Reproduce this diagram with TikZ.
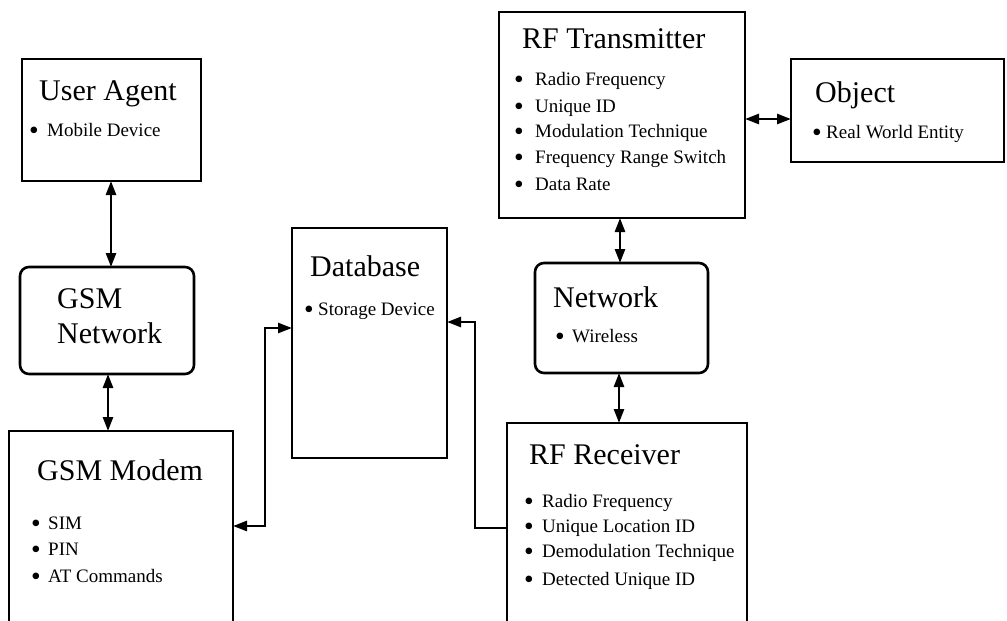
\documentclass[tikz,border=0pt]{standalone}
\usepackage{graphicx}
\usepackage{fontspec}
\setmainfont{Liberation Serif}
\usetikzlibrary{arrows.meta}
\newcommand\bul[1]{\makebox[#1][l]{\raisebox{-3.3pt}{\scalebox{1.45}{\textbullet}}}}
\begin{document}
\begin{tikzpicture}[x=1pt,y=-1pt,
  box/.style={draw, line width=2.6pt, inner sep=0pt, outer sep=0pt},
  rbox/.style={box, rounded corners=9pt},
  ttl/.style={anchor=base west, inner sep=0pt, font=\fontsize{30}{30}\selectfont},
  itm/.style={anchor=base west, inner sep=0pt, font=\fontsize{19}{19}\selectfont},
  tip/.tip={Triangle[length=14pt,width=10pt]},
  biarrow/.style={line width=2.6pt, tip-tip},
  onearrow/.style={line width=2.6pt, -tip}]
\useasboundingbox (0,0) rectangle (1007,621);
\fill[white] (0,0) rectangle (1007,621);
\clip (0,0) rectangle (1007,621);
% boxes
\node[box, minimum width=179pt, minimum height=122pt] (ua) at (111.5,120) {};
\node[rbox, minimum width=174pt, minimum height=107pt] (gsmn) at (107,320.5) {};
\node[box, minimum width=224pt, minimum height=229pt] (modem) at (121,545.5) {};
\node[box, minimum width=155pt, minimum height=230pt] (db) at (369.5,343) {};
\node[box, minimum width=246pt, minimum height=206pt] (tx) at (622,115) {};
\node[box, minimum width=213pt, minimum height=103pt] (obj) at (897.5,110.5) {};
\node[rbox, minimum width=173pt, minimum height=110pt] (net) at (621.5,318) {};
\node[box, minimum width=240pt, minimum height=237pt] (rx) at (627,541.5) {};
% titles
\node[ttl] (uat) at (39,100) {User Agent};
\node[ttl] (gsmt1) at (57,308) {GSM};
\node[ttl] (gsmt2) at (57,343) {Network};
\node[ttl] (modt) at (37,480) {GSM Modem};
\node[ttl] (dbt) at (310,276) {Database};
\node[ttl] (txt) at (522,48) {RF Transmitter};
\node[ttl] (objt) at (815,102) {Object};
\node[ttl] (nett) at (553,307) {Network};
\node[ttl] (rxt) at (529,464) {RF Receiver};
% items
\node[itm] (ua1) at (29,136) {\bul{18pt}Mobile Device};
\node[itm] (mo1) at (31,529) {\bul{17pt}SIM};
\node[itm] (mo2) at (31,555) {\bul{17pt}PIN};
\node[itm] (mo3) at (31,582) {\bul{17pt}AT Commands};
\node[itm] (db1) at (304,315) {\bul{14pt}Storage Device};
\node[itm] (tx1) at (514,85) {\bul{21pt}Radio Frequency};
\node[itm] (tx2) at (514,112) {\bul{21pt}Unique ID};
\node[itm] (tx3) at (514,137) {\bul{21pt}Modulation Technique};
\node[itm] (tx4) at (514,163) {\bul{21pt}Frequency Range Switch};
\node[itm] (tx5) at (514,190) {\bul{21pt}Data Rate};
\node[itm] (ob1) at (812,138) {\bul{14pt}Real World Entity};
\node[itm] (ne1) at (555,342) {\bul{17pt}Wireless};
\node[itm] (rx1) at (524,507) {\bul{18pt}Radio Frequency};
\node[itm] (rx2) at (524,532) {\bul{18pt}Unique Location ID};
\node[itm] (rx3) at (524,557) {\bul{18pt}Demodulation Technique};
\node[itm] (rx4) at (524,585) {\bul{18pt}Detected Unique ID};
% connector guide coordinates
\coordinate (c1) at (111,0);
\coordinate (c2) at (108,0);
\coordinate (c3) at (620,0);
\coordinate (c4) at (619,0);
\coordinate (c5) at (0,119);
\coordinate (m1) at (0,526);
\coordinate (m2) at (265,328);
\coordinate (r1) at (0,528);
\coordinate (r2) at (475,322);
% connectors
\draw[biarrow] (ua.south -| c1) -- (gsmn.north -| c1);
\draw[biarrow] (gsmn.south -| c2) -- (modem.north -| c2);
\draw[biarrow] (tx.south -| c3) -- (net.north -| c3);
\draw[biarrow] (net.south -| c4) -- (rx.north -| c4);
\draw[biarrow] (tx.east |- c5) -- (obj.west |- c5);
\draw[biarrow] (modem.east |- m1) -| (m2) -- (db.west |- m2);
\draw[onearrow] (rx.west |- r1) -| (r2) -- (db.east |- r2);
\end{tikzpicture}
\end{document}
